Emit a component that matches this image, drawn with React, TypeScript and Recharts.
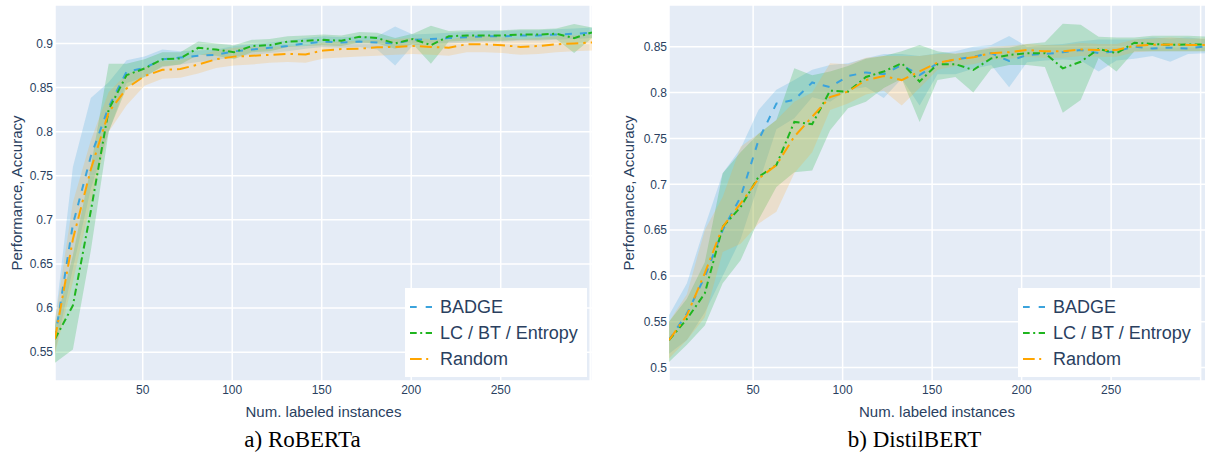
import React from 'react';
import { ComposedChart, Line, Area, XAxis, YAxis, CartesianGrid, Legend } from 'recharts';

// ---------- data ----------
const xRoberta = [1, 11, 21, 31, 41, 51, 61, 71, 81, 91, 101, 111, 121, 131, 141, 151, 161, 171, 181, 191, 201, 211, 221, 231, 241, 251, 261, 271, 281, 291, 301];
const xDistil = [3, 13, 23, 33, 43, 53, 63, 73, 83, 93, 103, 113, 123, 133, 143, 153, 163, 173, 183, 193, 203, 213, 223, 233, 243, 253, 263, 273, 283, 293, 303];

// RoBERTa
const rbBadge = [0.566, 0.695, 0.772, 0.828, 0.868, 0.872, 0.882, 0.884, 0.886, 0.887, 0.891, 0.893, 0.895, 0.897, 0.900, 0.902, 0.901, 0.902, 0.901, 0.900, 0.904, 0.905, 0.906, 0.907, 0.908, 0.908, 0.909, 0.909, 0.910, 0.911, 0.912];
const rbBadgeLo = [0.550, 0.645, 0.735, 0.800, 0.855, 0.862, 0.873, 0.876, 0.879, 0.881, 0.885, 0.887, 0.889, 0.891, 0.894, 0.896, 0.895, 0.896, 0.893, 0.875, 0.898, 0.899, 0.900, 0.901, 0.902, 0.902, 0.903, 0.903, 0.904, 0.905, 0.906];
const rbBadgeHi = [0.585, 0.760, 0.838, 0.856, 0.881, 0.885, 0.893, 0.891, 0.892, 0.893, 0.897, 0.899, 0.901, 0.903, 0.906, 0.908, 0.907, 0.908, 0.908, 0.919, 0.910, 0.911, 0.912, 0.913, 0.914, 0.914, 0.915, 0.915, 0.916, 0.917, 0.918];
const rbLc = [0.565, 0.603, 0.710, 0.825, 0.864, 0.8715, 0.882, 0.883, 0.895, 0.893, 0.890, 0.897, 0.898, 0.902, 0.903, 0.904, 0.903, 0.9075, 0.906, 0.900, 0.905, 0.898, 0.908, 0.909, 0.909, 0.909, 0.910, 0.910, 0.911, 0.906, 0.9125];
const rbLcLo = [0.538, 0.553, 0.665, 0.800, 0.850, 0.862, 0.874, 0.876, 0.887, 0.886, 0.882, 0.890, 0.891, 0.896, 0.897, 0.898, 0.897, 0.901, 0.900, 0.894, 0.899, 0.877, 0.902, 0.903, 0.903, 0.903, 0.904, 0.904, 0.905, 0.889, 0.906];
const rbLcHi = [0.580, 0.660, 0.760, 0.877, 0.877, 0.882, 0.890, 0.890, 0.902, 0.900, 0.898, 0.904, 0.905, 0.908, 0.909, 0.910, 0.909, 0.913, 0.912, 0.906, 0.911, 0.920, 0.914, 0.915, 0.915, 0.915, 0.916, 0.916, 0.917, 0.922, 0.918];
const rbRandom = [0.565, 0.678, 0.757, 0.822, 0.849, 0.863, 0.870, 0.871, 0.876, 0.882, 0.885, 0.886, 0.887, 0.888, 0.8875, 0.892, 0.8935, 0.894, 0.8955, 0.896, 0.897, 0.896, 0.895, 0.899, 0.899, 0.898, 0.896, 0.897, 0.899, 0.900, 0.901];
const rbRandomLo = [0.548, 0.630, 0.720, 0.800, 0.830, 0.852, 0.860, 0.861, 0.866, 0.872, 0.875, 0.876, 0.878, 0.879, 0.878, 0.883, 0.884, 0.885, 0.886, 0.887, 0.888, 0.887, 0.886, 0.890, 0.890, 0.889, 0.887, 0.888, 0.890, 0.891, 0.892];
const rbRandomHi = [0.585, 0.720, 0.790, 0.845, 0.865, 0.873, 0.880, 0.881, 0.886, 0.892, 0.895, 0.896, 0.896, 0.897, 0.897, 0.901, 0.902, 0.903, 0.904, 0.905, 0.906, 0.905, 0.904, 0.908, 0.908, 0.907, 0.905, 0.906, 0.908, 0.909, 0.910];

// DistilBERT
const dbBadge = [0.530, 0.559, 0.599, 0.650, 0.686, 0.748, 0.788, 0.792, 0.811, 0.806, 0.818, 0.822, 0.820, 0.830, 0.819, 0.832, 0.836, 0.839, 0.843, 0.8344, 0.841, 0.842, 0.844, 0.8464, 0.843, 0.845, 0.850, 0.848, 0.849, 0.848, 0.8505];
const dbBadgeLo = [0.515, 0.530, 0.560, 0.600, 0.640, 0.700, 0.760, 0.772, 0.795, 0.790, 0.803, 0.806, 0.794, 0.815, 0.786, 0.820, 0.820, 0.826, 0.830, 0.8057, 0.833, 0.835, 0.836, 0.835, 0.823, 0.835, 0.837, 0.840, 0.8336, 0.842, 0.843];
const dbBadgeHi = [0.557, 0.592, 0.654, 0.712, 0.739, 0.781, 0.803, 0.8136, 0.825, 0.830, 0.832, 0.8373, 0.842, 0.842, 0.840, 0.843, 0.845, 0.850, 0.852, 0.8617, 0.850, 0.852, 0.853, 0.856, 0.858, 0.858, 0.858, 0.860, 0.859, 0.860, 0.858];
const dbLc = [0.530, 0.553, 0.581, 0.6535, 0.675, 0.708, 0.721, 0.768, 0.7656, 0.802, 0.801, 0.817, 0.823, 0.832, 0.812, 0.831, 0.831, 0.8246, 0.8373, 0.841, 0.8428, 0.843, 0.8264, 0.8336, 0.8475, 0.843, 0.8544, 0.853, 0.852, 0.8525, 0.8525];
const dbLcLo = [0.506, 0.525, 0.546, 0.592, 0.617, 0.661, 0.697, 0.713, 0.715, 0.759, 0.783, 0.790, 0.805, 0.815, 0.768, 0.8136, 0.817, 0.800, 0.826, 0.830, 0.830, 0.828, 0.778, 0.792, 0.8376, 0.823, 0.845, 0.845, 0.845, 0.845, 0.845];
const dbLcHi = [0.550, 0.575, 0.615, 0.712, 0.735, 0.755, 0.770, 0.8264, 0.819, 0.823, 0.829, 0.837, 0.840, 0.845, 0.852, 0.845, 0.842, 0.845, 0.848, 0.849, 0.853, 0.855, 0.875, 0.874, 0.861, 0.860, 0.860, 0.862, 0.862, 0.862, 0.861];
const dbRandom = [0.530, 0.557, 0.603, 0.6535, 0.679, 0.706, 0.721, 0.752, 0.7736, 0.795, 0.801, 0.8136, 0.818, 0.8136, 0.823, 0.8326, 0.836, 0.8384, 0.843, 0.844, 0.8464, 0.845, 0.845, 0.847, 0.8464, 0.8464, 0.851, 0.852, 0.8525, 0.852, 0.852];
const dbRandomLo = [0.510, 0.530, 0.555, 0.626, 0.635, 0.657, 0.670, 0.712, 0.735, 0.781, 0.788, 0.798, 0.802, 0.786, 0.805, 0.825, 0.829, 0.831, 0.836, 0.837, 0.839, 0.838, 0.838, 0.840, 0.839, 0.839, 0.844, 0.845, 0.845, 0.845, 0.845];
const dbRandomHi = [0.550, 0.580, 0.650, 0.686, 0.741, 0.755, 0.770, 0.790, 0.800, 0.832, 0.831, 0.838, 0.840, 0.840, 0.840, 0.842, 0.843, 0.845, 0.850, 0.851, 0.853, 0.852, 0.852, 0.854, 0.853, 0.853, 0.858, 0.859, 0.860, 0.859, 0.859];

const xTicks = [50, 100, 150, 200, 250, 300];
const yTicksRoberta = [0.55, 0.6, 0.65, 0.7, 0.75, 0.8, 0.85, 0.9];
const yTicksDistil = [0.5, 0.55, 0.6, 0.65, 0.7, 0.75, 0.8, 0.85];

const seriesNames = ['BADGE', 'LC / BT / Entropy', 'Random'];

// ---------- style ----------
const SANS = '"Liberation Sans", Arial, sans-serif';
const SERIF = '"Liberation Serif", "Times New Roman", serif';
const TEXT = '#2a3f5f';
const BG = '#E5ECF6';

const series = [
  { key: 'badge', band: 'badgeBand', name: seriesNames[0], color: '#3ba3dc', fill: 'rgba(59,163,220,0.22)', dash: '7 8', legendDash: '6.7 9' },
  { key: 'lc', band: 'lcBand', name: seriesNames[1], color: '#1fb51f', fill: 'rgba(40,180,70,0.25)', dash: '7 3.5 2 3.5', legendDash: '6.7 3.5 2 3.5' },
  { key: 'random', band: 'randomBand', name: seriesNames[2], color: '#ffa500', fill: 'rgba(255,170,40,0.2)', dash: '12 5 2.5 5', legendDash: '11.7 4.5 2 4.5' },
];

function buildRows(xs: number[], b: number[], bl: number[], bh: number[], g: number[], gl: number[], gh: number[], o: number[], ol: number[], oh: number[]) {
  return xs.map((x, i) => ({
    x,
    badge: b[i], badgeBand: [bl[i], bh[i]],
    lc: g[i], lcBand: [gl[i], gh[i]],
    random: o[i], randomBand: [ol[i], oh[i]],
  }));
}

const robertaRows = buildRows(xRoberta, rbBadge, rbBadgeLo, rbBadgeHi, rbLc, rbLcLo, rbLcHi, rbRandom, rbRandomLo, rbRandomHi);
const distilRows = buildRows(xDistil, dbBadge, dbBadgeLo, dbBadgeHi, dbLc, dbLcLo, dbLcHi, dbRandom, dbRandomLo, dbRandomHi);

const fmtY = (v: number) => String(Number(v.toFixed(2)));
const fmtX = (v: number) => (v === 300 ? '' : String(v));

const renderLegend = () => (
  <div style={{ background: '#fff', width: 182, height: 89, boxSizing: 'border-box', paddingTop: 6, fontFamily: SANS, fontSize: 18, color: TEXT }}>
    {series.map((s) => (
      <div key={s.key} style={{ display: 'flex', alignItems: 'center', height: 26, whiteSpace: 'nowrap' }}>
        <svg width={35} height={26} style={{ flex: 'none' }}>
          <line x1={5} x2={27} y1={13} y2={13} stroke={s.color} strokeWidth={2} strokeDasharray={s.legendDash} />
        </svg>
        <span style={{ lineHeight: '26px' }}>{s.name}</span>
      </div>
    ))}
  </div>
);

type PanelProps = {
  rows: any[];
  left: number;
  xDomain: [number, number];
  yDomain: [number, number];
  yTicks: number[];
  legendLeft: number;
};

function Panel({ rows, left, xDomain, yDomain, yTicks, legendLeft }: PanelProps) {
  return (
    <div style={{ position: 'absolute', left, top: 0, width: 600, height: 420 }}>
      <ComposedChart width={600} height={420} data={rows} margin={{ top: 5, right: 8, left: 0, bottom: 9 }}>
        <CartesianGrid stroke="#ffffff" strokeWidth={1.5} fill={BG} fillOpacity={1} />
        <XAxis
          type="number"
          dataKey="x"
          domain={xDomain}
          allowDataOverflow
          ticks={xTicks}
          tickFormatter={fmtX}
          axisLine={false}
          tickLine={false}
          tickSize={0}
          tickMargin={4}
          height={30}
          interval={0}
          tick={{ fill: TEXT, fontSize: 12, fontFamily: SANS }}
        />
        <YAxis
          type="number"
          domain={yDomain}
          allowDataOverflow
          ticks={yTicks}
          tickFormatter={fmtY}
          axisLine={false}
          tickLine={false}
          tickSize={0}
          tickMargin={2}
          width={55}
          interval={0}
          tick={{ fill: TEXT, fontSize: 12, fontFamily: SANS }}
        />
        {series.map((s) => (
          <Area
            key={s.band}
            type="linear"
            dataKey={s.band}
            stroke="none"
            fill={s.fill}
            fillOpacity={1}
            isAnimationActive={false}
            dot={false}
            activeDot={false}
            legendType="none"
          />
        ))}
        {series.map((s) => (
          <Line
            key={s.key}
            type="linear"
            dataKey={s.key}
            name={s.name}
            stroke={s.color}
            strokeWidth={2}
            strokeDasharray={s.dash}
            dot={false}
            activeDot={false}
            isAnimationActive={false}
          />
        ))}
        <Legend
          layout="vertical"
          align="center"
          verticalAlign="middle"
          content={renderLegend}
          wrapperStyle={{ position: 'absolute', left: legendLeft, top: 288, width: 182, height: 89 }}
        />
      </ComposedChart>
    </div>
  );
}

const yTitleStyle = (cx: number): React.CSSProperties => ({
  position: 'absolute', left: cx, top: 193, transform: 'translate(-50%, -50%) rotate(-90deg)',
  whiteSpace: 'nowrap', fontFamily: SANS, fontSize: 15, lineHeight: 1, color: TEXT,
});
const xTitleStyle = (cx: number): React.CSSProperties => ({
  position: 'absolute', left: cx, top: 404, transform: 'translateX(-50%)',
  whiteSpace: 'nowrap', fontFamily: SANS, fontSize: 15, lineHeight: 1, color: TEXT,
});
const captionStyle = (cx: number): React.CSSProperties => ({
  position: 'absolute', left: cx, top: 427.5, transform: 'translateX(-50%)',
  whiteSpace: 'nowrap', fontFamily: SERIF, fontSize: 23, lineHeight: 1, color: '#000',
});

export default function App() {
  return (
    <div style={{ position: 'absolute', left: 0, top: 0, width: 1205, height: 455, overflow: 'hidden', background: '#fff' }}>
      <Panel rows={robertaRows} left={0} xDomain={[1, 301]} yDomain={[0.5174, 0.9435]} yTicks={yTicksRoberta} legendLeft={405} />
      <Panel rows={distilRows} left={614} xDomain={[3, 303]} yDomain={[0.4854, 0.8955]} yTicks={yTicksDistil} legendLeft={404} />
      <div style={yTitleStyle(16)}>Performance, Accuracy</div>
      <div style={yTitleStyle(628)}>Performance, Accuracy</div>
      <div style={xTitleStyle(323.5)}>Num. labeled instances</div>
      <div style={xTitleStyle(937)}>Num. labeled instances</div>
      <div style={captionStyle(302.5)}>a) RoBERTa</div>
      <div style={captionStyle(914.5)}>b) DistilBERT</div>
    </div>
  );
}
